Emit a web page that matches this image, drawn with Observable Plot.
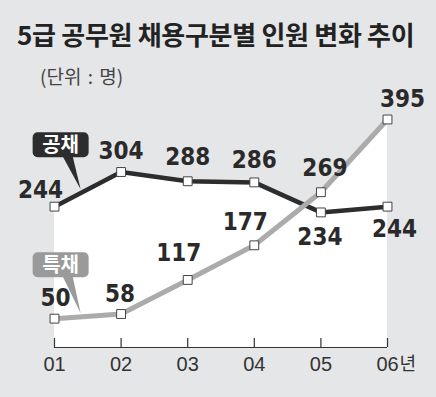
<!DOCTYPE html>
<html><head><meta charset="utf-8">
<script src="https://cdn.jsdelivr.net/npm/d3@7"></script>
<script src="https://cdn.jsdelivr.net/npm/@observablehq/plot@0.6"></script>
<style>
html,body{margin:0;padding:0;background:#e5e6e8;}
#wrap{width:436px;height:397px;position:relative;overflow:hidden;background:#e5e6e8;}
#title{position:absolute;left:17px;top:18px;font:700 26px "Noto Sans CJK KR",sans-serif;color:#222;letter-spacing:-0.3px;white-space:nowrap;line-height:32px;}
#sub{position:absolute;left:40px;top:63px;font:400 19px "Noto Sans CJK KR",sans-serif;color:#444;white-space:nowrap;line-height:26px;word-spacing:2px;}
#chart{position:absolute;left:0;top:90px;}
</style></head>
<body>
<div id="wrap">
  <div id="title">5급 공무원 채용구분별 인원 변화 추이</div>
  <div id="sub">(단위 : 명)</div>
  <div id="chart"></div>
</div>
<script>
// ---- data ----
const years = [1, 2, 3, 4, 5, 6];
const yearLabels = ["01", "02", "03", "04", "05", "06"];
const yearSuffix = "년";
const seriesNames = ["공채", "특채"];
const gongchae = [244, 304, 288, 286, 234, 244];
const teukchae = [50, 58, 117, 177, 269, 395];

// ---- layout (pixel offsets of value labels) ----
const gongDx = [-14, 0, 0, 0, -1, 7];
const gongDy = [-16, -21, -24, -22, 25, 23];
const teukDx = [1, -1, -9, -9, 4, 15];
const teukDy = [-20, -20, -27, -23, -24, -20];

const W = 436, H = 307, mT = 3, mB = 50, mL = 54, mR = 49;
const frameH = H - mT - mB;

const gongRows = years.map((x, i) => ({x, v: gongchae[i], dx: gongDx[i], dy: gongDy[i]}));
const teukRows = years.map((x, i) => ({x, v: teukchae[i], dx: teukDx[i], dy: teukDy[i]}));
const allRows = gongRows.concat(teukRows);

const numFont = '"Liberation Sans Narrow","DejaVu Sans Condensed","Arial Narrow",sans-serif';

const labelMarks = allRows.map(r => Plot.text([r], {
  x: "x", y: "v", text: d => String(d.v), dx: r.dx, dy: r.dy,
  fontFamily: numFont, fontWeight: "bold", fontSize: 24, fill: "#2a2a2a",
  style: "letter-spacing:-0.6px"
}));

const plot = Plot.plot({
  width: W, height: H,
  marginTop: mT, marginBottom: mB, marginLeft: mL, marginRight: mR,
  style: {background: "transparent", overflow: "visible"},
  x: {domain: [1, 6], axis: null},
  y: {domain: [0, 440], axis: null},
  marks: [
    Plot.areaY(gongRows, {x: "x", y: "v", fill: "white"}),
    Plot.areaY(teukRows, {x: "x", y: "v", fill: "white"}),
    Plot.ruleX(years, {x: d => d, stroke: "#333", strokeWidth: 1.2, insetTop: frameH - 9}),
    Plot.ruleY([0], {stroke: "#333", strokeWidth: 1.2}),
    Plot.lineY(gongRows, {x: "x", y: "v", stroke: "#2d2d2d", strokeWidth: 4.5}),
    Plot.lineY(teukRows, {x: "x", y: "v", stroke: "#ababab", strokeWidth: 5}),
    Plot.dot(allRows, {x: "x", y: "v", symbol: "square", r: 5, fill: "white", stroke: "#444", strokeWidth: 1}),
    ...labelMarks,
    Plot.text(years, {x: d => d, y: 0, text: (d, i) => yearLabels[i], dy: 17,
      fontFamily: '"Liberation Sans","Arial",sans-serif', fontSize: 20, fill: "#333"}),
    Plot.text([years[years.length - 1]], {x: d => d, y: 0, text: [yearSuffix], dy: 17, dx: 12,
      textAnchor: "start", fontFamily: '"Noto Sans CJK KR",sans-serif', fontSize: 18, fill: "#333"})
  ]
});

// ---- series tags (공채 / 특채) anchored on each line through the plot's scales ----
const sx = plot.scale("x"), sy = plot.scale("y");
const svg = d3.select(plot);
const tagData = [
  {name: seriesNames[0], vals: gongchae, fill: "#2d2d2d", lift: 35},
  {name: seriesNames[1], vals: teukchae, fill: "#9a9a9a", lift: 39}
];
const t = 0.4;
tagData.forEach(d => {
  const px = sx.apply(years[0] + t * (years[1] - years[0]));
  const py = sy.apply(d.vals[0] + t * (d.vals[1] - d.vals[0]));
  const tipX = px, tipY = py - 3;
  const boxW = 56, boxH = 25;
  const bx = tipX - 48, by = py - d.lift - boxH;
  const g = svg.append("g");
  g.append("path")
    .attr("d", `M${bx + 30},${by + boxH - 1}L${bx + 40},${by + boxH - 1}L${tipX},${tipY}Z`)
    .attr("fill", d.fill);
  g.append("rect").attr("x", bx).attr("y", by).attr("width", boxW).attr("height", boxH)
    .attr("rx", 5).attr("fill", d.fill);
  g.append("text").attr("x", bx + boxW / 2).attr("y", by + boxH / 2).attr("dy", "0.36em")
    .attr("text-anchor", "middle").attr("fill", "white")
    .attr("font-family", '"Noto Sans CJK KR",sans-serif').attr("font-weight", 700).attr("font-size", 20)
    .text(d.name);
});

document.getElementById("chart").appendChild(plot);
</script>
</body></html>
